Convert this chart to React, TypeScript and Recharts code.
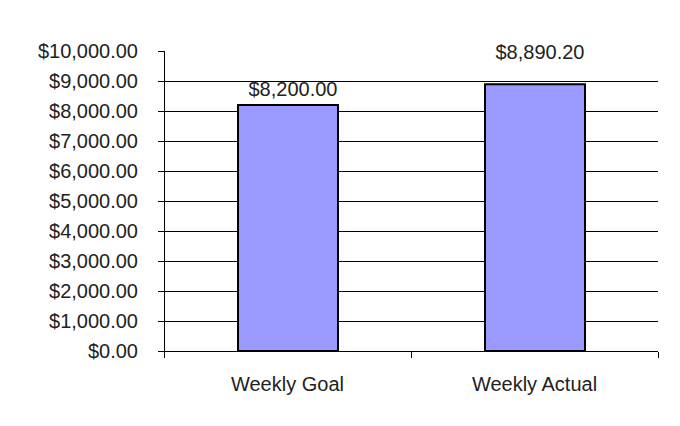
import { BarChart, Bar, XAxis, YAxis, CartesianGrid, LabelList, Customized } from "recharts"

const categories = ["Weekly Goal", "Weekly Actual"]
const amounts = [8200, 8890.2]
const yTicks = [0, 1000, 2000, 3000, 4000, 5000, 6000, 7000, 8000, 9000, 10000]
const edgeTicks = [0, 1, 2]

const data = categories.map((name, i) => ({ name, amount: amounts[i], edge: i }))

const money = (v: number) =>
  "$" + Number(v).toLocaleString("en-US", { minimumFractionDigits: 2, maximumFractionDigits: 2 })

// the two value labels sit at different heights above their bars
const labelGap = [9, 25]

const font = "'Liberation Sans', Arial, sans-serif"
const ink = "#222"

function BarLabel(props: any) {
  const { x, y, width, value, index } = props
  return (
    <text
      x={Number(x) + Number(width) / 2 + 5}
      y={Number(y) - labelGap[index]}
      textAnchor="middle"
      fontSize={20}
      fontFamily={font}
      fill={ink}
    >
      {money(value)}
    </text>
  )
}

const NoLabel = () => <g />

// chart frame: only its top and left edges fall inside the picture
const Frame = () => <path d="M6 430 V5 H684" fill="none" stroke="#000" strokeWidth={2} />

export default function App() {
  return (
    <div style={{ position: "relative", margin: -8, width: 680, height: 426, overflow: "hidden", background: "#fff" }}>
      <style>{"svg line { shape-rendering: crispEdges; }"}</style>
      <BarChart width={680} height={426} data={data} margin={{ top: 51, right: 22, left: 0, bottom: 73 }}>
        <Customized component={Frame} />
        <CartesianGrid vertical={false} stroke="#000" horizontalValues={yTicks.filter((t) => t > 0 && t < 10000)} />
        <XAxis
          dataKey="name"
          height={1}
          tickLine={false}
          tickSize={6}
          tickMargin={20}
          axisLine={{ stroke: "#000" }}
          tick={{ fill: ink, fontSize: 20, fontFamily: font }}
        />
        <XAxis
          xAxisId="edges"
          dataKey="edge"
          type="number"
          domain={[0, 2]}
          ticks={edgeTicks}
          interval={0}
          allowDataOverflow
          height={1}
          tick={NoLabel}
          tickSize={6}
          tickLine={{ stroke: "#000" }}
          axisLine={false}
        />
        <YAxis
          width={164}
          domain={[0, 10000]}
          ticks={yTicks}
          interval={0}
          tickSize={6}
          tickMargin={20}
          tickFormatter={money}
          tickLine={{ stroke: "#000" }}
          axisLine={{ stroke: "#000" }}
          tick={{ fill: ink, fontSize: 20, fontFamily: font }}
        />
        <Bar dataKey="amount" barSize={100} fill="#9999FF" stroke="#000" strokeWidth={2} isAnimationActive={false}>
          <LabelList dataKey="amount" content={BarLabel} />
        </Bar>
      </BarChart>
    </div>
  )
}
